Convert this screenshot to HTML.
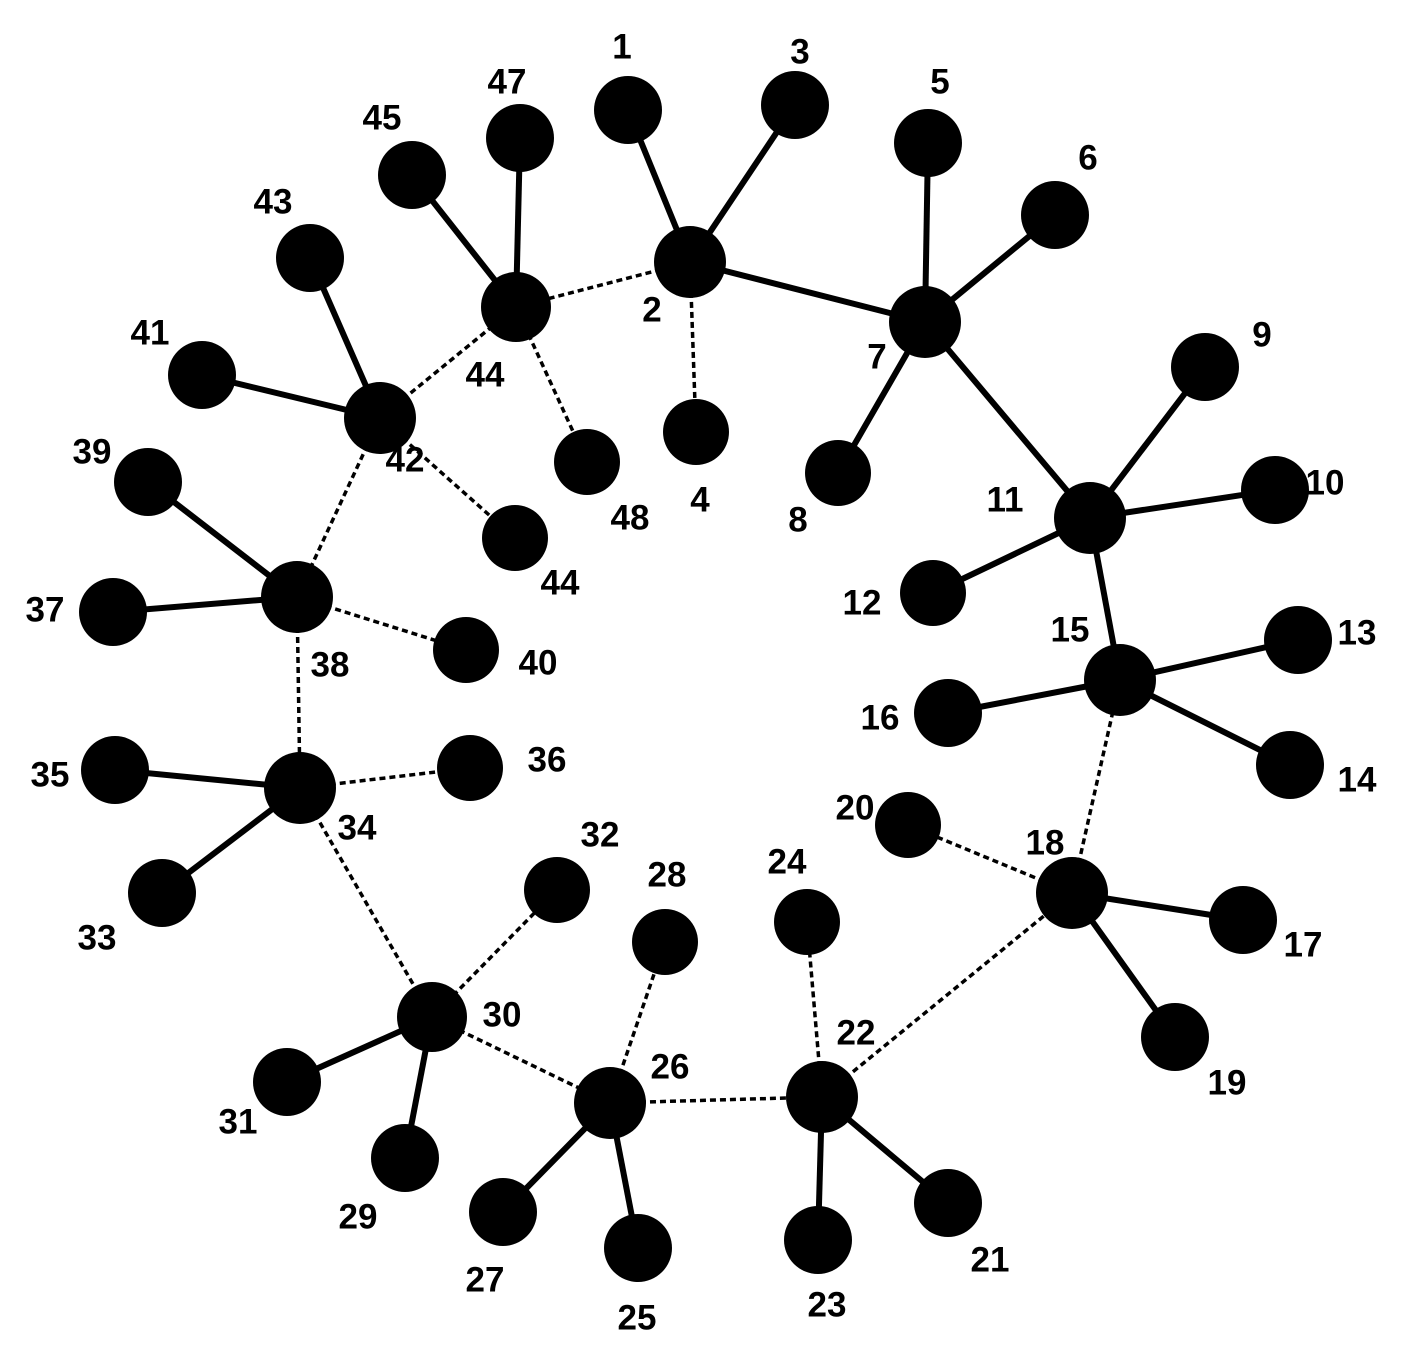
<!DOCTYPE html>
<html><head><style>body{margin:0;background:#fff}svg{display:block}text{font-family:"Liberation Sans",Arial,sans-serif;font-weight:bold;font-size:35px;fill:#000;text-anchor:middle;dominant-baseline:central}</style></head>
<body>
<svg width="1412" height="1360" viewBox="0 0 1412 1360" xmlns="http://www.w3.org/2000/svg">
<g stroke="#000" stroke-width="6">
<line x1="628" y1="110" x2="690" y2="262"/><line x1="795" y1="105" x2="690" y2="262"/>
<line x1="690" y1="262" x2="925" y2="322"/><line x1="928" y1="143" x2="925" y2="322"/>
<line x1="1055" y1="215" x2="925" y2="322"/><line x1="838" y1="473" x2="925" y2="322"/>
<line x1="1090" y1="518" x2="925" y2="322"/><line x1="1205" y1="367" x2="1090" y2="518"/>
<line x1="1275" y1="490" x2="1090" y2="518"/><line x1="933" y1="593" x2="1090" y2="518"/>
<line x1="1120" y1="680" x2="1090" y2="518"/><line x1="1298" y1="640" x2="1120" y2="680"/>
<line x1="948" y1="713" x2="1120" y2="680"/><line x1="1290" y1="765" x2="1120" y2="680"/>
<line x1="1072" y1="893" x2="1243" y2="920"/><line x1="1072" y1="893" x2="1175" y2="1037"/>
<line x1="822" y1="1097" x2="818" y2="1240"/><line x1="822" y1="1097" x2="948" y2="1203"/>
<line x1="610" y1="1103" x2="503" y2="1212"/><line x1="610" y1="1103" x2="638" y2="1248"/>
<line x1="432" y1="1017" x2="287" y2="1082"/><line x1="432" y1="1017" x2="405" y2="1158"/>
<line x1="300" y1="788" x2="115" y2="770"/><line x1="300" y1="788" x2="162" y2="893"/>
<line x1="297" y1="597" x2="113" y2="612"/><line x1="297" y1="597" x2="148" y2="482"/>
<line x1="380" y1="418" x2="202" y2="375"/><line x1="380" y1="418" x2="310" y2="258"/>
<line x1="516" y1="307" x2="412" y2="175"/><line x1="516" y1="307" x2="520" y2="138"/>
</g>
<g stroke="#000" stroke-width="3.5" stroke-dasharray="6,4">
<line x1="690" y1="262" x2="516" y2="307"/><line x1="690" y1="262" x2="696" y2="432"/>
<line x1="516" y1="307" x2="380" y2="418"/><line x1="516" y1="307" x2="587" y2="462"/>
<line x1="380" y1="418" x2="297" y2="597"/><line x1="380" y1="418" x2="515" y2="538"/>
<line x1="297" y1="597" x2="466" y2="650"/><line x1="297" y1="597" x2="300" y2="788"/>
<line x1="300" y1="788" x2="470" y2="768"/><line x1="300" y1="788" x2="432" y2="1017"/>
<line x1="432" y1="1017" x2="557" y2="890"/><line x1="432" y1="1017" x2="610" y2="1103"/>
<line x1="610" y1="1103" x2="665" y2="942"/><line x1="610" y1="1103" x2="822" y2="1097"/>
<line x1="822" y1="1097" x2="807" y2="922"/><line x1="822" y1="1097" x2="1072" y2="893"/>
<line x1="1072" y1="893" x2="908" y2="825"/><line x1="1072" y1="893" x2="1120" y2="680"/>
</g>
<g fill="#000">
<circle cx="628" cy="110" r="34"/><circle cx="795" cy="105" r="34"/><circle cx="928" cy="143" r="34"/>
<circle cx="1055" cy="215" r="34"/><circle cx="690" cy="262" r="36"/><circle cx="925" cy="322" r="36"/>
<circle cx="520" cy="138" r="34"/><circle cx="412" cy="175" r="34"/><circle cx="516" cy="307" r="35"/>
<circle cx="310" cy="258" r="34"/><circle cx="202" cy="375" r="34"/><circle cx="380" cy="418" r="36"/>
<circle cx="587" cy="462" r="33"/><circle cx="696" cy="432" r="33"/><circle cx="838" cy="473" r="33"/>
<circle cx="1205" cy="367" r="34"/><circle cx="1275" cy="490" r="34"/><circle cx="1090" cy="518" r="36"/>
<circle cx="933" cy="593" r="33"/><circle cx="515" cy="538" r="33"/><circle cx="148" cy="482" r="34"/>
<circle cx="113" cy="612" r="34"/><circle cx="297" cy="597" r="36"/><circle cx="466" cy="650" r="33"/>
<circle cx="1298" cy="640" r="34"/><circle cx="1120" cy="680" r="36"/><circle cx="948" cy="713" r="34"/>
<circle cx="1290" cy="765" r="34"/><circle cx="115" cy="770" r="34"/><circle cx="300" cy="788" r="36"/>
<circle cx="470" cy="768" r="33"/><circle cx="908" cy="825" r="33"/><circle cx="1072" cy="893" r="36"/>
<circle cx="1243" cy="920" r="34"/><circle cx="162" cy="893" r="34"/><circle cx="557" cy="890" r="33"/>
<circle cx="665" cy="942" r="33"/><circle cx="807" cy="922" r="33"/><circle cx="432" cy="1017" r="35"/>
<circle cx="610" cy="1103" r="36"/><circle cx="822" cy="1097" r="36"/><circle cx="1175" cy="1037" r="34"/>
<circle cx="287" cy="1082" r="34"/><circle cx="405" cy="1158" r="34"/><circle cx="503" cy="1212" r="34"/>
<circle cx="638" cy="1248" r="34"/><circle cx="818" cy="1240" r="34"/><circle cx="948" cy="1203" r="34"/>
</g>
<text x="622" y="47">1</text><text x="800" y="52">3</text><text x="940" y="82">5</text><text x="1088" y="158">6</text>
<text x="652" y="310">2</text><text x="877" y="357">7</text><text x="507" y="82">47</text><text x="382" y="118">45</text>
<text x="485" y="375">44</text><text x="273" y="202">43</text><text x="150" y="333">41</text><text x="405" y="460">42</text>
<text x="630" y="518">48</text><text x="700" y="500">4</text><text x="798" y="520">8</text><text x="1262" y="335">9</text>
<text x="1325" y="483">10</text><text x="1005" y="500">11</text><text x="862" y="603">12</text><text x="560" y="583">44</text>
<text x="92" y="452">39</text><text x="45" y="610">37</text><text x="330" y="665">38</text><text x="538" y="663">40</text>
<text x="1357" y="633">13</text><text x="1070" y="630">15</text><text x="880" y="718">16</text><text x="1357" y="780">14</text>
<text x="50" y="775">35</text><text x="357" y="828">34</text><text x="547" y="760">36</text><text x="855" y="808">20</text>
<text x="1045" y="843">18</text><text x="1303" y="945">17</text><text x="97" y="938">33</text><text x="600" y="835">32</text>
<text x="667" y="875">28</text><text x="787" y="862">24</text><text x="502" y="1015">30</text><text x="670" y="1067">26</text>
<text x="856" y="1033">22</text><text x="1227" y="1083">19</text><text x="238" y="1122">31</text><text x="358" y="1217">29</text>
<text x="485" y="1280">27</text><text x="637" y="1318">25</text><text x="827" y="1305">23</text><text x="990" y="1260">21</text>
</svg>
</body></html>
